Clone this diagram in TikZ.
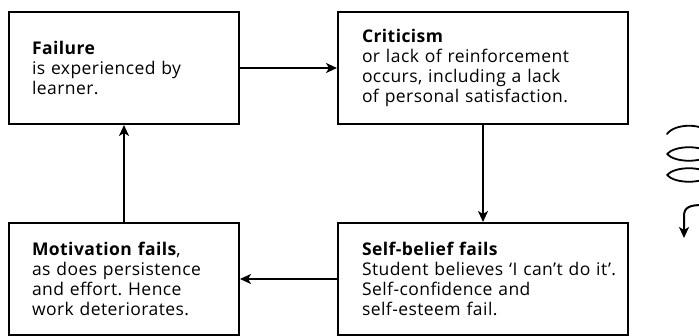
\documentclass[tikz,border=0pt]{standalone}
\usepackage{fontspec}
\setmainfont{Open Sans}[LetterSpace=2.5]
\usetikzlibrary{arrows.meta, positioning}
\frenchspacing

\begin{document}
\begin{tikzpicture}[
    x=1pt, y=1pt,
    font=\fontsize{17.5}{20}\selectfont,
    box/.style     ={draw, line width=2pt, rectangle, align=left,
                     minimum height=112pt, inner ysep=4pt},
    narrowbox/.style={box, minimum width=230pt, inner xsep=23pt, text width=184pt},
    widebox/.style ={box, minimum width=290pt, inner xsep=10pt, text width=270pt,
                     execute at begin node={\leftskip=14pt\relax}},
    flow/.style    ={-{Stealth[length=11pt, width=10pt, inset=3pt]}, line width=2pt},
    glyph/.style   ={line width=1.8pt, line cap=round}
]
\useasboundingbox (0,0) rectangle (699,-336);

% Top row: failure -> criticism
\node[narrowbox] (fail) at (124,-68) {\textbf{Failure}\\is experienced by\\learner.\\[6pt]};
\node[widebox]   (crit) at (483,-68) {\textbf{Criticism}\\or lack of reinforcement\\occurs, including a lack\\of personal satisfaction.};

% Bottom row: motivation <- self-belief
\node[narrowbox] (motiv) at (124,-279) {\textbf{Motivation fails},\\as does persistence\\and effort. Hence\\work deteriorates.};
\node[widebox]   (self)  at (483,-279) {\textbf{Self-belief fails}\\Student believes `I can't do it'.\\Self-confidence and\\self-esteem fail.};

% --- Arrows ---
\draw[flow] (fail.east) -- (crit.west);
\draw[flow] (crit.south) -- (self.north);
\draw[flow] (self.west) -- (motiv.east);
\draw[flow] (motiv.north) -- (fail.south);

% Cycle sign on the right edge
\begin{scope}
\clip (600,0) rectangle (699,-336);
\draw[glyph] (667,-134) .. controls (675,-123) and (703,-123) .. (711,-134);
\draw[glyph] (667,-154) .. controls (675,-145) and (703,-145) .. (711,-154)
                        .. controls (703,-163) and (675,-163) .. (667,-154);
\draw[glyph] (667,-175) .. controls (675,-166) and (703,-166) .. (711,-175)
                        .. controls (703,-184) and (675,-184) .. (667,-175);
\coordinate (hook) at (703,-205);
\coordinate (tip)  at (684,-238);
\draw[flow] (hook) .. controls (690,-205) and (684,-207) .. (684,-216) -- (tip);
\end{scope}

\end{tikzpicture}
\end{document}
